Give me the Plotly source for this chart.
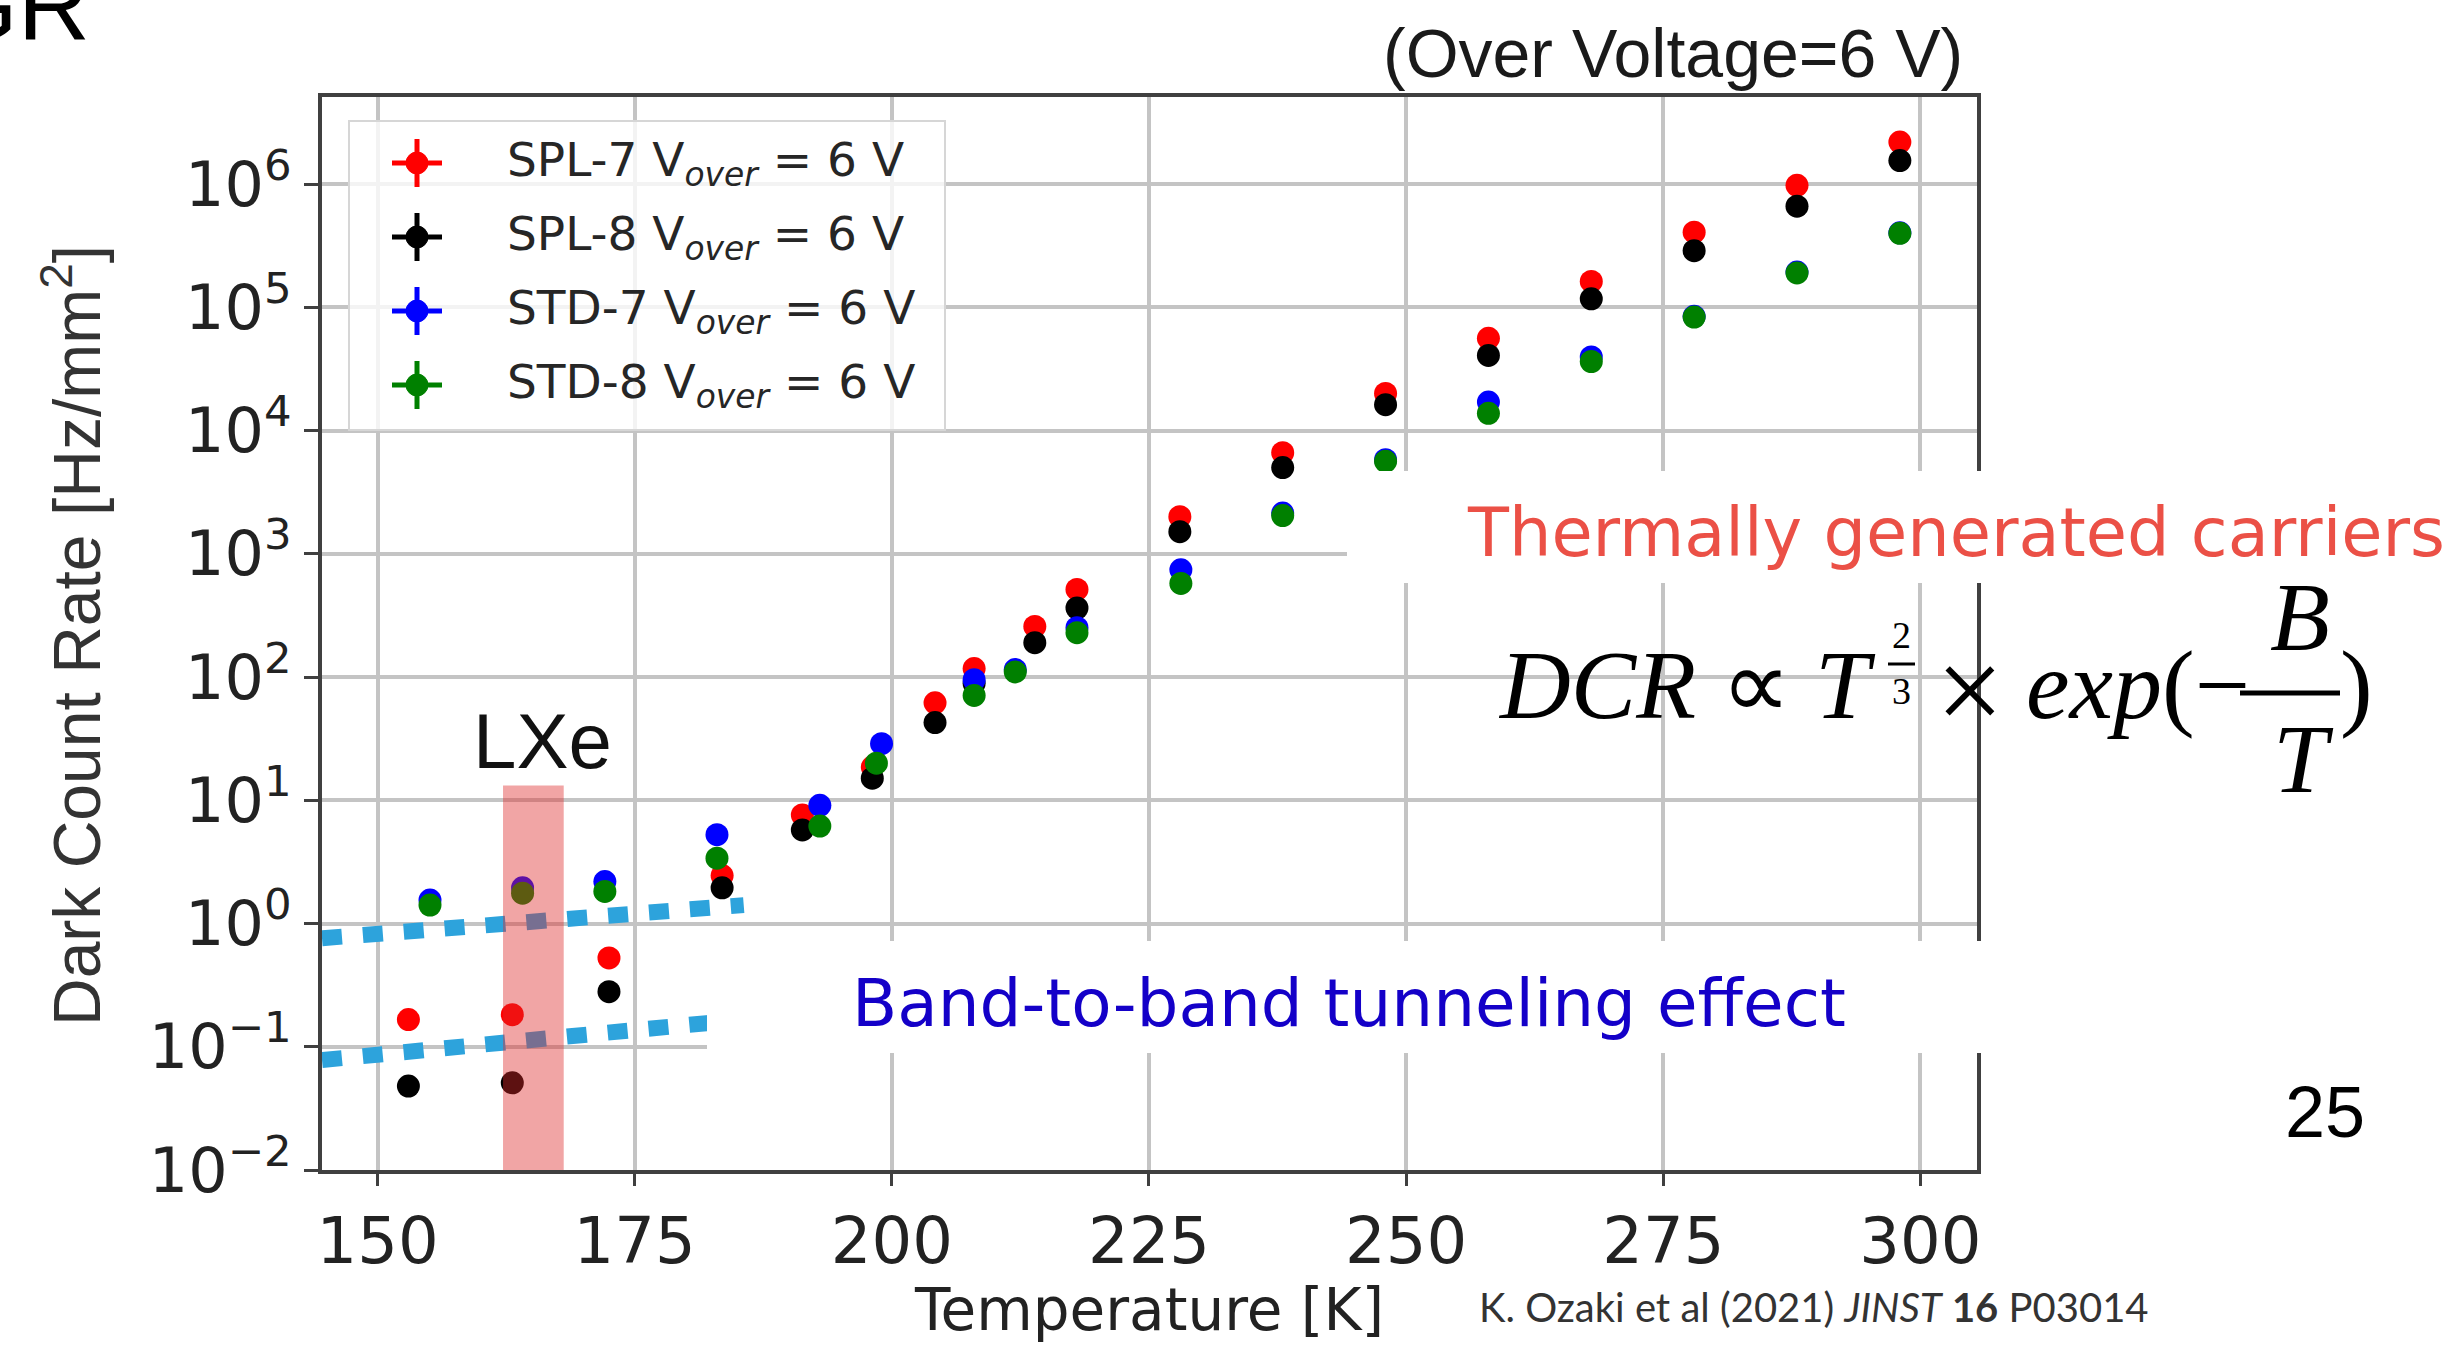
import plotly.graph_objects as go

# ---------------- data ----------------
series_names = ["SPL-7", "SPL-8", "STD-7", "STD-8"]
series_colors = ["#ff0000", "#000000", "#0000ff", "#008000"]

temps_spl = [153.0, 163.1, 172.5, 183.5, 191.3, 198.1, 204.2, 208.0, 213.9, 218.0,
             228.0, 238.0, 248.0, 258.0, 268.0, 278.0, 288.0, 298.0]
dcr_spl7 = [0.166, 0.182, 0.525, 2.45, 7.6, 18.6, 61.7, 117, 257, 513,
            2000, 6600, 20000, 56000, 162000, 407000, 977000, 2190000]
dcr_spl8 = [0.048, 0.051, 0.28, 1.95, 5.75, 15.1, 42.7, 89, 190, 363,
            1510, 5000, 16200, 40700, 117000, 288000, 661000, 1550000]

temps_std7 = [155.1, 164.1, 172.1, 183.0, 193.0, 199.0, 208.0, 212.0, 218.0,
              228.1, 238.0, 248.0, 258.0, 268.0, 278.0, 288.0, 298.0]
dcr_std7 = [1.55, 1.95, 2.19, 5.25, 9.1, 28.8, 95, 115, 251,
            741, 2140, 5800, 17000, 39500, 84500, 193000, 402000]
temps_std8 = [155.1, 164.1, 172.1, 183.0, 193.0, 198.5, 208.0, 212.0, 218.0,
              228.1, 238.0, 248.0, 258.0, 268.0, 278.0, 288.0, 298.0]
dcr_std8 = [1.41, 1.76, 1.82, 3.39, 6.17, 20.0, 70.8, 110, 229,
            575, 2040, 5620, 13800, 36300, 83200, 190000, 398000]

# dotted guide lines (band-to-band tunneling level)
guide_T = [144.6, 185.6]
guide_upper = [0.76, 1.41]
guide_lower = [0.078, 0.166]

# LXe temperature band
lxe_T = [162.2, 168.1]
lxe_dcr = [0.01, 13.2]

x_ticks = [150, 175, 200, 225, 250, 275, 300]
y_exponents = [-2, -1, 0, 1, 2, 3, 4, 5, 6]

# ---------------- layout geometry (pixels) ----------------
FIG_W, FIG_H = 2464, 1346
PL, PR, PT, PB = 322, 1977, 97, 1170


def fx(px):
    return (px - PL) / (PR - PL)


def fy(py):
    return (PB - py) / (PB - PT)


fig = go.Figure()

series = [(temps_spl, dcr_spl7), (temps_spl, dcr_spl8), (temps_std7, dcr_std7), (temps_std8, dcr_std8)]
for (tx, ty), name, col in zip(series, series_names, series_colors):
    fig.add_trace(go.Scatter(x=tx, y=ty, mode="markers", name=name,
                             marker=dict(color=col, size=23, line=dict(width=0)),
                             showlegend=False))

for gy in (guide_upper, guide_lower):
    fig.add_trace(go.Scatter(x=guide_T, y=gy, mode="lines", showlegend=False,
                             line=dict(color="#2da3dc", width=16, dash="20px,21px")))

shapes = []
# LXe band
shapes.append(dict(type="rect", xref="x", yref="y", x0=lxe_T[0], x1=lxe_T[1], y0=lxe_dcr[0], y1=lxe_dcr[1],
                   fillcolor="rgba(222,40,40,0.42)", line=dict(width=0), layer="above"))
# white cover boxes for the slide texts
shapes.append(dict(type="rect", xref="paper", yref="paper", x0=fx(1347), x1=fx(2470), y0=fy(583), y1=fy(471),
                   fillcolor="white", line=dict(width=0), layer="above"))
shapes.append(dict(type="rect", xref="paper", yref="paper", x0=fx(707), x1=fx(1992), y0=fy(1053), y1=fy(941),
                   fillcolor="white", line=dict(width=0), layer="above"))
# legend frame
shapes.append(dict(type="rect", xref="paper", yref="paper", x0=fx(349), x1=fx(945), y0=fy(430), y1=fy(121),
                   fillcolor="rgba(255,255,255,0.8)", line=dict(color="#d6d6d6", width=2), layer="above"))

legend_y = [163, 237, 311, 385]
gx = 417
annotations = []
for name, col, ly in zip(series_names, series_colors, legend_y):
    shapes.append(dict(type="line", xref="paper", yref="paper", x0=fx(gx), x1=fx(gx), y0=fy(ly - 24), y1=fy(ly + 24),
                       line=dict(color=col, width=5), layer="above"))
    shapes.append(dict(type="line", xref="paper", yref="paper", x0=fx(gx - 25), x1=fx(gx + 25), y0=fy(ly), y1=fy(ly),
                       line=dict(color=col, width=5), layer="above"))
    shapes.append(dict(type="circle", xref="paper", yref="paper", x0=fx(gx - 11), x1=fx(gx + 11),
                       y0=fy(ly + 11), y1=fy(ly - 11), fillcolor=col, line=dict(color=col, width=1), layer="above"))
    annotations.append(dict(text=f"{name} V<sub><i>over</i></sub> = 6 V", x=fx(505), y=fy(ly),
                            xanchor="left", yanchor="middle",
                            font=dict(family="DejaVu Sans", size=47, color="#262626")))

# formula fraction bars
shapes.append(dict(type="line", xref="paper", yref="paper", x0=fx(1888), x1=fx(1915), y0=fy(664), y1=fy(664),
                   line=dict(color="black", width=3), layer="above"))
shapes.append(dict(type="line", xref="paper", yref="paper", x0=fx(2240), x1=fx(2340), y0=fy(693), y1=fy(693),
                   line=dict(color="black", width=5), layer="above"))


def ann(text, px, py, size, family, color="#111111", xanchor="center", **kw):
    d = dict(text=text, x=fx(px), y=fy(py), xanchor=xanchor, yanchor="middle",
             font=dict(family=family, size=size, color=color))
    d.update(kw)
    annotations.append(d)


ann("GR", 92, 5, 100, "Liberation Sans", color="black", xanchor="right")
ann("(Over Voltage=6 V)", 1673, 53, 68, "Liberation Sans", color="#1a1a1a")
ann("LXe", 542, 741, 78, "Liberation Sans", color="#111111")
ann("Thermally generated carriers", 1465, 533, 67, "DejaVu Sans", color="rgb(235,80,70)", xanchor="left")
ann("Band-to-band tunneling effect", 850, 1003, 66, "DejaVu Sans", color="rgb(20,0,200)", xanchor="left")
serif = "Liberation Serif"
ann("<i>DCR</i> ∝ <i>T</i>", 1496, 685, 98, serif, color="black", xanchor="left")
ann("2", 1901, 635, 38, serif, color="black")
ann("3", 1901, 691, 38, serif, color="black")
ann("×", 1970, 690, 120, serif, color="black")
ann("<i>exp</i>(−", 2024, 685, 98, serif, color="black", xanchor="left")
ann("<i>B</i>", 2300, 617, 98, serif, color="black")
ann("<i>T</i>", 2303, 759, 98, serif, color="black")
ann(")", 2338, 685, 98, serif, color="black", xanchor="left")
ann("25", 2325, 1112, 72, "Liberation Sans", color="black")
ann("K. Ozaki et al (2021) <i>JINST</i> <b>16</b> P03014", 1477, 1307, 40, "Lato", color="#333333", xanchor="left")
ann("Temperature [K]", 1149, 1310, 58, "DejaVu Sans", color="#222222")
ann("Dark Count Rate [Hz/mm<sup>2</sup>]", 72, 636, 66, "Liberation Sans", color="#333333", textangle=-90)

for a in annotations:
    a.setdefault("showarrow", False)
    a.setdefault("xref", "paper")
    a.setdefault("yref", "paper")

y_ticktext = [f"10<sup>{e}</sup>".replace("-", "−") for e in y_exponents]
y_tickvals = [10.0 ** e for e in y_exponents]

fig.update_layout(
    width=FIG_W, height=FIG_H,
    margin=dict(l=PL, r=FIG_W - PR, t=PT, b=FIG_H - PB, pad=0),
    paper_bgcolor="white", plot_bgcolor="white",
    showlegend=False,
    shapes=shapes, annotations=annotations,
    xaxis=dict(range=[144.6, 305.5], tickvals=x_ticks, ticktext=[str(t) for t in x_ticks],
               showgrid=True, gridcolor="#c4c4c4", gridwidth=3.5, zeroline=False,
               showline=True, linecolor="#404040", linewidth=4, mirror=True,
               ticks="outside", ticklen=12, tickwidth=3, tickcolor="#404040",
               tickfont=dict(family="DejaVu Sans", size=64, color="#222222")),
    yaxis=dict(type="log", range=[-2, 6.706], tickvals=y_tickvals, ticktext=y_ticktext,
               showgrid=True, gridcolor="#c4c4c4", gridwidth=3.5, zeroline=False,
               showline=True, linecolor="#404040", linewidth=4, mirror=True,
               ticks="outside", ticklen=14, tickwidth=3, tickcolor="#404040",
               tickfont=dict(family="DejaVu Sans", size=62, color="#222222")),
)

fig.write_html("out.html")
